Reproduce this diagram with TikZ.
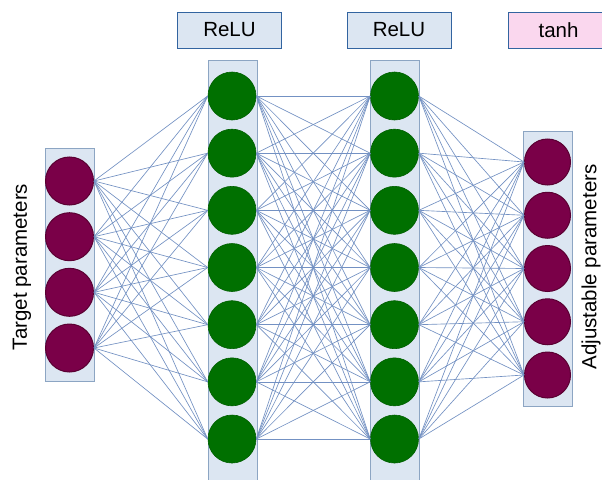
\documentclass[tikz,border=0pt]{standalone}
\usepackage{fontspec}
\setmainfont{Liberation Sans}
\definecolor{colfill}{RGB}{220,230,242}
\definecolor{coledge}{RGB}{140,165,195}
\definecolor{boxedge}{RGB}{50,100,160}
\definecolor{pinkfill}{RGB}{250,215,238}
\definecolor{maroon}{RGB}{122,0,72}
\definecolor{maroonedge}{RGB}{90,0,50}
\definecolor{leaf}{RGB}{0,112,0}
\definecolor{wire}{RGB}{115,145,195}
\begin{document}
\begin{tikzpicture}[x=1pt,y=-1pt,
  colrect/.style={draw=coledge,fill=colfill,line width=0.8pt},
  actbox/.style={draw=boxedge,fill=colfill,line width=1pt,minimum width=104pt,minimum height=36pt,inner sep=0pt,font=\fontsize{20.5}{22}\selectfont},
  pinkbox/.style={actbox,fill=pinkfill},
  maroonnode/.style={circle,fill=maroon,draw=maroonedge,line width=1pt,minimum size=48pt,inner sep=0pt},
  smallmaroon/.style={maroonnode,minimum size=46pt},
  greennode/.style={circle,fill=leaf,draw=leaf!85!black,line width=0.6pt,minimum size=48pt,inner sep=0pt},
  wireline/.style={draw=wire,line width=0.65pt},
  sidelabel/.style={rotate=90,font=\fontsize{20.5}{22}\selectfont,inner sep=0pt}]
\useasboundingbox (0,0) rectangle (602,479);
\clip (0,0) rectangle (602,479);
\fill[white] (0,0) rectangle (602,479);
% column backgrounds
\node[colrect,minimum width=49pt,minimum height=233pt,inner sep=0pt,anchor=north west] (c0) at (45,148) {};
\node[colrect,minimum width=49pt,minimum height=430pt,inner sep=0pt,anchor=north west] (c1) at (207.5,60) {};
\node[colrect,minimum width=49pt,minimum height=430pt,inner sep=0pt,anchor=north west] (c2) at (370,60) {};
\node[colrect,minimum width=49pt,minimum height=275pt,inner sep=0pt,anchor=north west] (c3) at (523,131) {};
% activation labels
\node[actbox] (r1) at (229.5,30) {ReLU};
\node[actbox] (r2) at (399,30) {ReLU};
\node[pinkbox,anchor=west] (t3) at (508,30) {\hspace*{-4pt}tanh};
% neurons
\foreach \i/\y in {1/181,2/236.7,3/292.3,4/348} \node[maroonnode] (a\i) at (69.5,\y) {};
\foreach \i in {1,...,7} \node[greennode] (b\i) at (232,{96+(\i-1)*57.17}) {};
\foreach \i in {1,...,7} \node[greennode] (c\i) at (394.5,{96+(\i-1)*57.17}) {};
\foreach \i in {1,...,5} \node[smallmaroon] (d\i) at (547.5,{162+(\i-1)*53.25}) {};
% connections
\foreach \i in {1,...,4} \foreach \j in {1,...,7} \draw[wireline] (a\i.east) -- (b\j.west);
\foreach \i in {1,...,7} \foreach \j in {1,...,7} \draw[wireline] (b\i.east) -- (c\j.west);
\foreach \i in {1,...,7} \foreach \j in {1,...,5} \draw[wireline] (c\i.east) -- (d\j.west);
% side labels
\node[sidelabel] (tp) at (22,267) {Target parameters};
\node[sidelabel] (ap) at (591,267) {Adjustable parameters};
\end{tikzpicture}
\end{document}
